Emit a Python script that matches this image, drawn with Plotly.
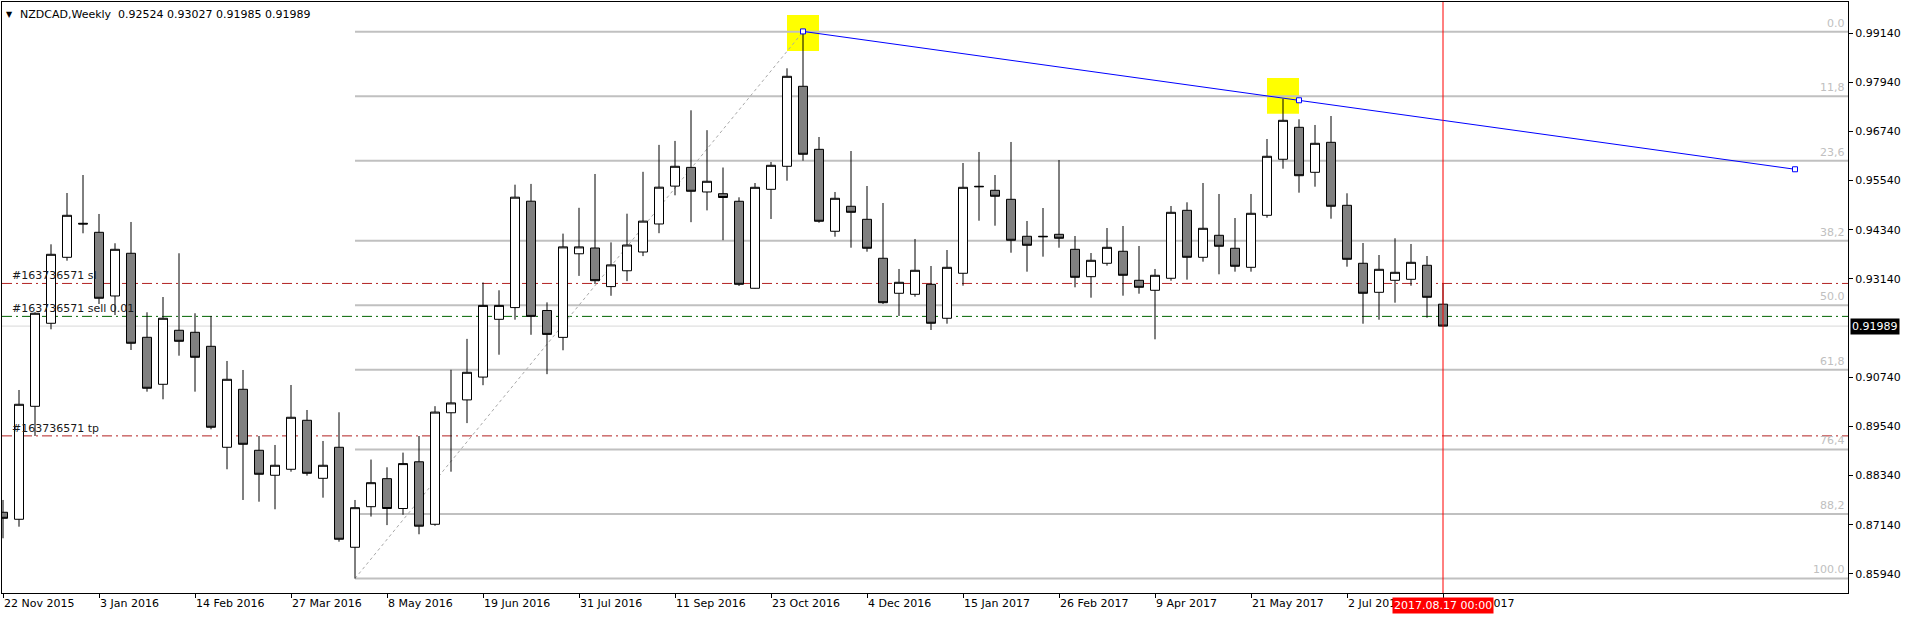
import plotly.graph_objects as go
import pandas as pd

# ---------------- data ----------------
symbol_header = "NZDCAD,Weekly\u00a0\u00a00.92524 0.93027 0.91985 0.91989"
week_start = "2015-11-22"
n_weeks = 91
weeks = pd.date_range(week_start, periods=n_weeks, freq="7D")

open_ = [
    0.87446, 0.87275, 0.90032, 0.92058, 0.93668, 0.94498, 0.94278, 0.92724, 0.93766, 0.91716,
    0.90569, 0.91887, 0.91838, 0.91496, 0.89032, 0.90447, 0.88959, 0.88349, 0.88495, 0.89691,
    0.88275, 0.89032, 0.86592, 0.87582, 0.88266, 0.87538, 0.88678, 0.87153, 0.89874, 0.90188,
    0.90745, 0.92155, 0.92441, 0.95037, 0.92370, 0.91714, 0.93754, 0.93895, 0.92953, 0.93339,
    0.93797, 0.94481, 0.95405, 0.95862, 0.95262, 0.95220, 0.95035, 0.92912, 0.95327, 0.95889,
    0.97841, 0.96303, 0.94303, 0.94913, 0.94595, 0.93644, 0.92790, 0.92765, 0.93009, 0.92180,
    0.93278, 0.95401, 0.95303, 0.95083, 0.94181, 0.94181, 0.94229, 0.93863, 0.93195, 0.93522,
    0.93815, 0.93107, 0.92863, 0.93156, 0.94815, 0.93668, 0.94205, 0.93888, 0.93424, 0.94693,
    0.96060, 0.96840, 0.95742, 0.96474, 0.94937, 0.93522, 0.92814, 0.93107, 0.93131, 0.93473,
    0.92524]
high = [
    0.87746, 0.90430, 0.92326, 0.93985, 0.95237, 0.95676, 0.94725, 0.94010, 0.94530, 0.92326,
    0.92699, 0.93766, 0.92302, 0.92236, 0.91138, 0.90918, 0.89308, 0.89088, 0.90552, 0.89942,
    0.89186, 0.89886, 0.87746, 0.88732, 0.88544, 0.88902, 0.89308, 0.90035, 0.90923, 0.91677,
    0.93053, 0.92863, 0.95440, 0.95459, 0.92568, 0.94246, 0.94876, 0.95701, 0.94032, 0.94732,
    0.95754, 0.96411, 0.96508, 0.97255, 0.96770, 0.95859, 0.95132, 0.95481, 0.95994, 0.98280,
    0.99170, 0.96604, 0.95262, 0.96262, 0.95408, 0.94993, 0.93383, 0.94115, 0.93456, 0.93846,
    0.95969, 0.96238, 0.95676, 0.96482, 0.94554, 0.94871, 0.96042, 0.94188, 0.93773, 0.94383,
    0.94432, 0.93944, 0.93383, 0.94920, 0.95010, 0.95481, 0.95213, 0.94627, 0.95213, 0.96555,
    0.97538, 0.97036, 0.96897, 0.97116, 0.95230, 0.94017, 0.93724, 0.94132, 0.93993, 0.93700,
    0.93027]
low = [
    0.86811, 0.87094, 0.89308, 0.91911, 0.93585, 0.94254, 0.92529, 0.92260, 0.91406, 0.90389,
    0.90203, 0.91267, 0.90389, 0.89471, 0.88495, 0.87746, 0.87704, 0.87519, 0.88436, 0.88339,
    0.87802, 0.86728, 0.85830, 0.87341, 0.87133, 0.87385, 0.86909, 0.87116, 0.88436, 0.89622,
    0.90547, 0.91291, 0.92145, 0.91777, 0.90816, 0.91399, 0.93214, 0.93017, 0.92729, 0.93087,
    0.93697, 0.94256, 0.95181, 0.94525, 0.94813, 0.94085, 0.92968, 0.92905, 0.94603, 0.95537,
    0.96025, 0.94512, 0.94171, 0.93902, 0.93805, 0.92529, 0.92236, 0.92707, 0.91894, 0.92048,
    0.92975, 0.94561, 0.94439, 0.93780, 0.93317, 0.93683, 0.93902, 0.92936, 0.92682, 0.93463,
    0.92731, 0.92780, 0.91667, 0.93097, 0.93122, 0.93561, 0.93253, 0.93317, 0.93317, 0.94634,
    0.95830, 0.95245, 0.95391, 0.94610, 0.93439, 0.92048, 0.92145, 0.92560, 0.92975, 0.92194,
    0.91985]
close = [
    0.87299, 0.90081, 0.92302, 0.93741, 0.94693, 0.94481, 0.92668, 0.93863, 0.91570, 0.90472,
    0.92180, 0.91618, 0.91228, 0.89520, 0.90691, 0.89105, 0.88373, 0.88593, 0.89764, 0.88397,
    0.88593, 0.86787, 0.87558, 0.88168, 0.87538, 0.88634, 0.87106, 0.89891, 0.90115, 0.90862,
    0.92494, 0.92494, 0.95135, 0.92226, 0.91787, 0.93922, 0.93922, 0.93097, 0.93483, 0.93968,
    0.94551, 0.95379, 0.95889, 0.95279, 0.95523, 0.95127, 0.93009, 0.95376, 0.95913, 0.98085,
    0.96182, 0.94547, 0.95108, 0.94766, 0.93888, 0.92560, 0.93058, 0.93351, 0.92058, 0.93424,
    0.95376, 0.95391, 0.95157, 0.94083, 0.93961, 0.94171, 0.94132, 0.93180, 0.93595, 0.93912,
    0.93229, 0.92936, 0.93229, 0.94766, 0.93668, 0.94376, 0.93937, 0.93449, 0.94742, 0.96133,
    0.97011, 0.95659, 0.96450, 0.94913, 0.93619, 0.92790, 0.93375, 0.93302, 0.93546, 0.92692,
    0.91989]

tick_dates = ["2015-11-22", "2016-01-03", "2016-02-14", "2016-03-27", "2016-05-08",
              "2016-06-19", "2016-07-31", "2016-09-11", "2016-10-23", "2016-12-04",
              "2017-01-15", "2017-02-26", "2017-04-09", "2017-05-21", "2017-07-02",
              "2017-08-13"]
tick_text = ["22 Nov 2015", "3 Jan 2016", "14 Feb 2016", "27 Mar 2016", "8 May 2016",
             "19 Jun 2016", "31 Jul 2016", "11 Sep 2016", "23 Oct 2016", "4 Dec 2016",
             "15 Jan 2017", "26 Feb 2017", "9 Apr 2017", "21 May 2017", "2 Jul 2017",
             "13 Aug 2017"]
price_ticks = [0.99140, 0.97940, 0.96740, 0.95540, 0.94340, 0.93140,
               0.90740, 0.89540, 0.88340, 0.87140, 0.85940]
price_tick_text = ["0.99140", "0.97940", "0.96740", "0.95540", "0.94340", "0.93140",
                   "0.90740", "0.89540", "0.88340", "0.87140", "0.85940"]

# Fibonacci retracement (anchored at week 22 low and week 50 high)
fib_low = 0.85830
fib_high = 0.99170
fib_start_week = 22
fib_end_week = 50
fib_ratios = [0.0, 11.8, 23.6, 38.2, 50.0, 61.8, 76.4, 88.2, 100.0]
fib_labels = ["0.0", "11,8", "23,6", "38,2", "50.0", "61,8", "76,4", "88,2", "100.0"]

# order lines
order_id = "#163736571"
sl_price = 0.93030
entry_price = 0.92226
tp_price = 0.89310
last_price = 0.91989
last_price_text = "0.91989"

# blue trend line
trend_weeks = [50, 81, 112]
trend_prices = [0.99180, 0.97500, 0.95816]

# yellow highlight boxes (week from, week to, price low, price high)
boxes_week0 = [49, 79]
boxes_week1 = [51, 81]
boxes_p0 = [0.98702, 0.97172]
boxes_p1 = [0.99581, 0.98043]

# vertical marker
marker_week = 90
marker_label = "2017.08.17 00:00"

# ---------------- helpers ----------------
FONT = "DejaVu Sans"
t0 = pd.Timestamp(week_start)


def wk(i):
    return t0 + pd.Timedelta(weeks=i)


x_range = [wk(-0.0625), wk(115.3125)]
y_range = [0.85476, 0.99898]

fig = go.Figure()

fig.add_trace(go.Candlestick(
    x=weeks, open=open_, high=high, low=low, close=close,
    increasing=dict(line=dict(color="black", width=1), fillcolor="white"),
    decreasing=dict(line=dict(color="black", width=1), fillcolor="#808080"),
    whiskerwidth=0, hoverinfo="skip", showlegend=False,
))

fig.add_trace(go.Scatter(
    x=[wk(i) for i in trend_weeks], y=trend_prices, mode="lines+markers",
    line=dict(color="#0000FF", width=1),
    marker=dict(symbol="square", size=5, color="white",
                line=dict(color="#0000FF", width=1)),
    hoverinfo="skip", showlegend=False,
))

shapes = []
# yellow boxes
for a, b, p0, p1 in zip(boxes_week0, boxes_week1, boxes_p0, boxes_p1):
    shapes.append(dict(type="rect", xref="x", yref="y", x0=wk(a), x1=wk(b), y0=p0, y1=p1,
                       fillcolor="#FFFF00", line=dict(width=0), layer="below"))
# fib levels
fib_prices = [fib_high - r / 100.0 * (fib_high - fib_low) for r in fib_ratios]
for p in fib_prices:
    shapes.append(dict(type="line", xref="x", yref="y", x0=wk(fib_start_week), x1=wk(140),
                       y0=p, y1=p, line=dict(color="#C0C0C0", width=2), layer="below"))
# fib trend (dotted)
shapes.append(dict(type="line", xref="x", yref="y", x0=wk(fib_start_week), x1=wk(fib_end_week),
                   y0=fib_low, y1=fib_high, line=dict(color="#A8A8A8", width=1, dash="dot"),
                   layer="below"))
# last price line
shapes.append(dict(type="line", xref="paper", yref="y", x0=0, x1=1, y0=last_price, y1=last_price,
                   line=dict(color="#D8D8D8", width=1), layer="below"))
# order lines
dd = "10px,4px,2px,4px"
shapes.append(dict(type="line", xref="paper", yref="y", x0=0, x1=1, y0=sl_price, y1=sl_price,
                   line=dict(color="#B22222", width=1, dash=dd), layer="below"))
shapes.append(dict(type="line", xref="paper", yref="y", x0=0, x1=1, y0=tp_price, y1=tp_price,
                   line=dict(color="#B22222", width=1, dash=dd), layer="below"))
shapes.append(dict(type="line", xref="paper", yref="y", x0=0, x1=1, y0=entry_price, y1=entry_price,
                   line=dict(color="#006400", width=1, dash=dd), layer="below"))
# red vertical marker
shapes.append(dict(type="line", xref="x", yref="paper", x0=wk(marker_week), x1=wk(marker_week),
                   y0=0, y1=1, line=dict(color="#FF0000", width=1), layer="above"))

ann = []
ann.append(dict(xref="paper", yref="paper", x=0, y=1, xanchor="left", yanchor="top",
                xshift=2, yshift=-6, text="\u25BC", showarrow=False,
                font=dict(family=FONT, size=8, color="black")))
ann.append(dict(xref="paper", yref="paper", x=0, y=1, xanchor="left", yanchor="top",
                xshift=16, yshift=-4, text=symbol_header, showarrow=False,
                font=dict(family=FONT, size=11, color="black")))
for txt, p in [(order_id + " sl", sl_price), (order_id + " sell 0.01", entry_price),
               (order_id + " tp", tp_price)]:
    ann.append(dict(xref="paper", yref="y", x=0, y=p, xanchor="left", yanchor="bottom",
                    xshift=8, yshift=-1, text=txt, showarrow=False,
                    font=dict(family=FONT, size=11, color="#1a1a1a")))
for lab, p in zip(fib_labels, fib_prices):
    ann.append(dict(xref="paper", yref="y", x=1, y=p, xanchor="right", yanchor="bottom",
                    xshift=-1, yshift=0, text=lab, showarrow=False,
                    font=dict(family=FONT, size=11, color="#C0C0C0")))
ann.append(dict(xref="paper", yref="y", x=1, y=last_price, xanchor="left", yanchor="middle",
                xshift=2, text=last_price_text, showarrow=False, bgcolor="black", borderpad=1,
                font=dict(family=FONT, size=11, color="white")))
ann.append(dict(xref="x", yref="paper", x=wk(marker_week), y=0, xanchor="center", yanchor="top",
                yshift=-4, text=marker_label, showarrow=False, bgcolor="#FF0000", borderpad=1,
                font=dict(family=FONT, size=11, color="white")))

fig.update_layout(
    width=1908, height=617,
    margin=dict(l=2, r=60, t=2, b=24),
    paper_bgcolor="white", plot_bgcolor="white",
    showlegend=False,
    boxgap=0.25, boxgroupgap=0.25,
    shapes=shapes, annotations=ann,
    font=dict(family=FONT, size=11, color="black"),
    xaxis=dict(type="date", range=x_range, showgrid=False, zeroline=False,
               showline=True, mirror=True, linecolor="black", linewidth=1,
               ticks="outside", ticklen=4, tickcolor="black",
               tickvals=tick_dates, ticktext=tick_text,
               ticklabelposition="outside right",
               tickfont=dict(family=FONT, size=11, color="black"),
               rangeslider=dict(visible=False), fixedrange=True),
    yaxis=dict(side="right", range=y_range, showgrid=False, zeroline=False,
               showline=True, mirror=True, linecolor="black", linewidth=1,
               ticks="outside", ticklen=4, tickcolor="black",
               tickvals=price_ticks, ticktext=price_tick_text,
               tickfont=dict(family=FONT, size=11, color="black"), fixedrange=True),
)

fig.write_html("out.html")
